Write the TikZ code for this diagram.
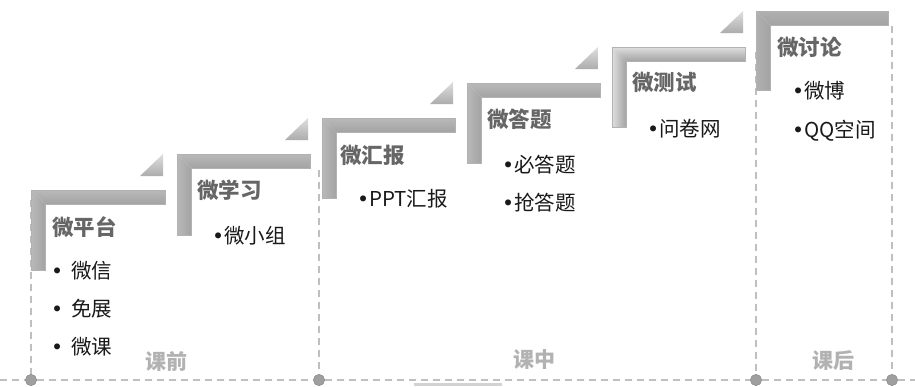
\documentclass[tikz,border=0pt]{standalone}
\usepackage{fontspec}
\newfontfamily\cjk{Noto Sans CJK SC}
\newfontfamily\bulfont{DejaVu Sans}
\newcommand{\bul}{{\bulfont •}}
\usetikzlibrary{calc}
\tikzset{
  dashln/.style={draw=gray!50, line width=1.6pt, dash pattern=on 7pt off 5pt},
  dot/.style={circle, fill=gray!75, draw=gray!85, line width=0.6pt, minimum size=11pt, inner sep=0pt},
  ttl/.style={font=\cjk\bfseries\fontsize{21.5}{22}\selectfont, text=black!60, anchor=west, inner sep=0pt},
  itm/.style={font=\cjk\fontsize{20.5}{21}\selectfont, text=black!90, anchor=west, inner sep=0pt},
  phase/.style={font=\cjk\bfseries\fontsize{21}{21}\selectfont, text=gray!60, anchor=west, inner sep=0pt},
}
\newcommand{\drawstair}[5]{%
  % #1 x0, #2 y0, #3 right end, #4 bottom, #5 light shade
  \shade[top color=gray!#5, middle color=gray!35, bottom color=gray!72]
    (#1,#2) -- (#3,#2) -- (#3,#2+14) -- (#1+14,#2+14) -- cycle;
  \shade[left color=gray!#5, middle color=gray!35, right color=gray!72]
    (#1,#2) -- (#1+14,#2+14) -- (#1+14,#4) -- (#1,#4) -- cycle;
  \draw[gray!60, line width=0.4pt] (#1,#2) -- (#3,#2) -- (#3,#2+14) -- (#1+14,#2+14) -- (#1+14,#4) -- (#1,#4) -- cycle;
}
\newcommand{\drawtab}[2]{%
  % #1 right end, #2 y0
  \shade[top color=gray!25, bottom color=gray!65]
    (#1-25,#2-14) -- (#1-2,#2-14) -- (#1-2,#2-36) -- cycle;
}
\begin{document}
\begin{tikzpicture}[x=1pt,y=-1pt]
\useasboundingbox (0,0) rectangle (915,386);
\fill[white] (0,0) rectangle (915,386);

% dashed frame
\coordinate (b0) at (0,380);
\coordinate (b1) at (915,380);
\coordinate (v1t) at (31,200);
\coordinate (v2t) at (319,170);
\coordinate (v3t) at (756,52);
\coordinate (v4t) at (892,26);
\node[dot] (c1) at (31,380) {};
\node[dot] (c2) at (319,380) {};
\node[dot] (c3) at (756,380) {};
\node[dot] (c4) at (892,380) {};
\draw[dashln] (b0) -- (c1) -- (c2) -- (c3) -- (c4) -- (b1);
\draw[dashln] (v1t) -- (c1);
\draw[dashln] (v2t) -- (c2);
\draw[dashln] (v3t) -- (c3);
\draw[dashln] (v4t) -- (c4);
\node[dot] at (31,380) {};
\node[dot] at (319,380) {};
\node[dot] at (756,380) {};
\node[dot] at (892,380) {};
\draw[gray!35, line width=2.5pt] (414,384.5) -- (502,384.5);

% stairs
\drawtab{165}{190}
\drawtab{310}{154}
\drawtab{455}{118}
\drawtab{600}{83}
\drawtab{745}{47}
\drawstair{31}{190}{165}{270}{55}
\drawstair{177}{154}{310}{235}{55}
\drawstair{322}{118}{455}{198}{55}
\drawstair{467}{83}{600}{163}{55}
\drawstair{612}{47}{745}{127}{25}
\drawstair{756}{11}{888}{90}{62}

% titles
\node[ttl] (t1) at (52,227) {微平台};
\node[ttl] (t2) at (197,190) {微学习};
\node[ttl] (t3) at (340,155) {微汇报};
\node[ttl] (t4) at (487,119) {微答题};
\node[ttl] (t5) at (632,82) {微测试};
\node[ttl] (t6) at (777,47) {微讨论};

% items
\node[itm] (i11) at (51,271) {\bul\hspace{8pt}微信};
\node[itm] (i12) at (51,309) {\bul\hspace{8pt}免展};
\node[itm] (i13) at (51,347) {\bul\hspace{8pt}微课};
\node[itm] (i21) at (212,236) {\bul 微小组};
\node[itm] (i31) at (357,199) {\bul PPT汇报};
\node[itm] (i41) at (502,165) {\bul 必答题};
\node[itm] (i42) at (502,203) {\bul 抢答题};
\node[itm] (i51) at (647,129) {\bul 问卷网};
\node[itm] (i61) at (792,91) {\bul 微博};
\node[itm] (i62) at (792,131) {\bul QQ空间};

% phases
\node[phase] (p1) at (145,361) {课前};
\node[phase] (p2) at (513,360) {课中};
\node[phase] (p3) at (812,361) {课后};
\end{tikzpicture}
\end{document}
